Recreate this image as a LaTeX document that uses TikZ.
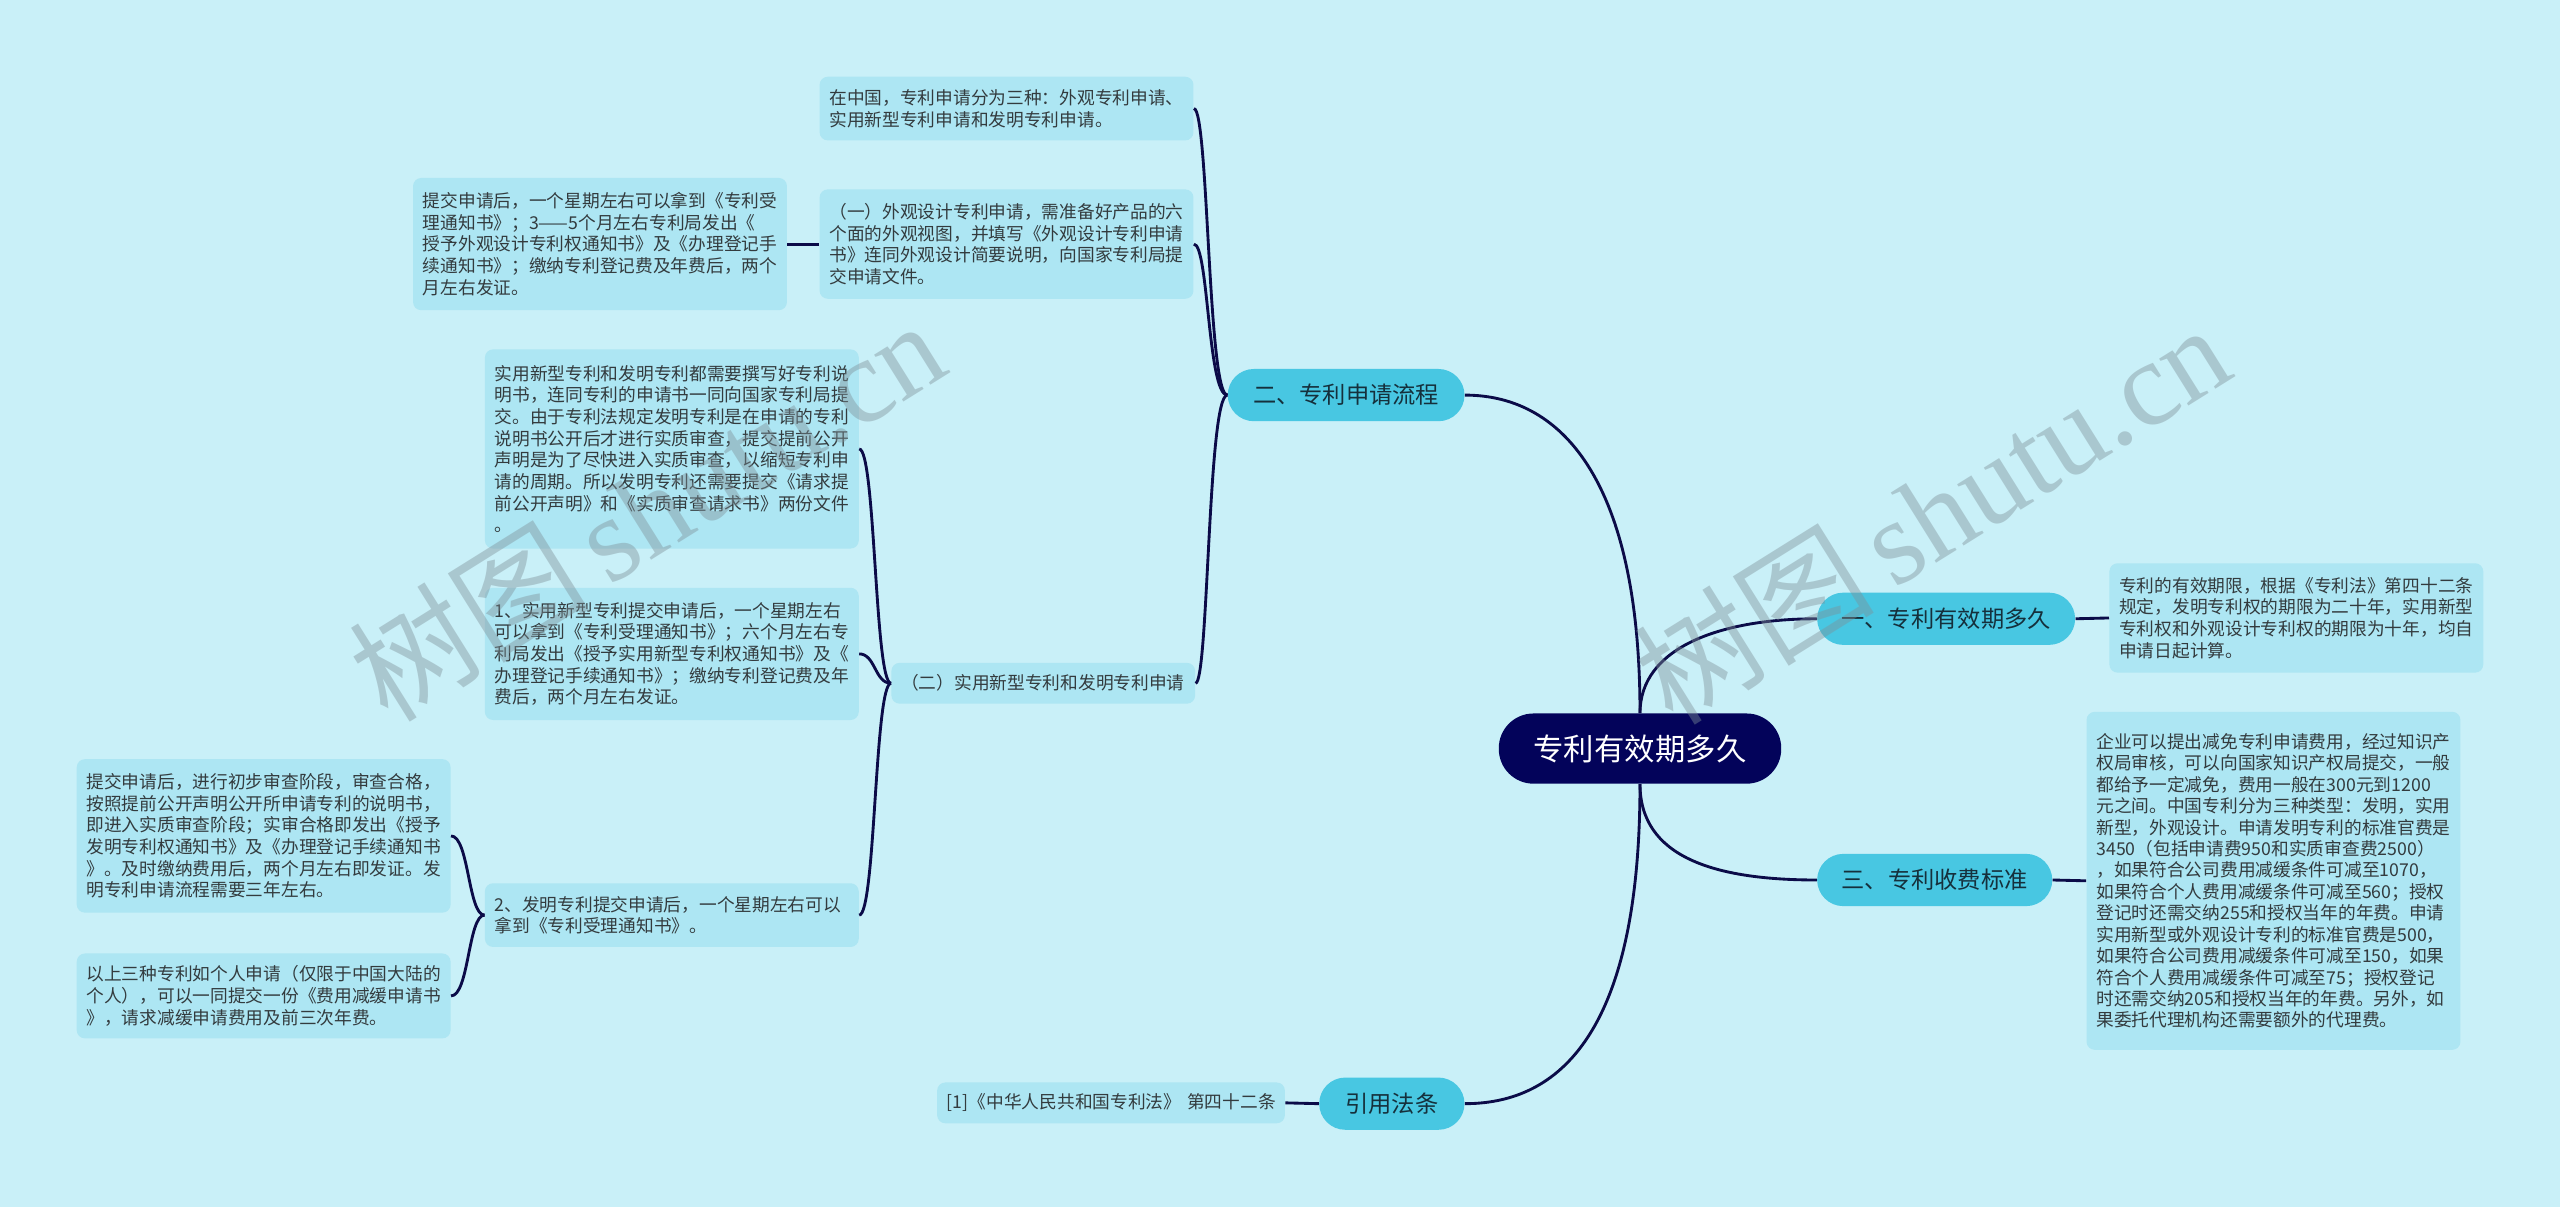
\documentclass[tikz,border=0pt]{standalone}
\usepackage{fontspec}
\setmainfont{Noto Sans CJK SC}
\newfontfamily\wmlat{Liberation Serif}
\definecolor{bgc}{HTML}{C9F0F8}
\definecolor{leafc}{HTML}{ADE6F3}
\definecolor{subc}{HTML}{48C7E2}
\definecolor{navyc}{HTML}{03035A}
\definecolor{linec}{HTML}{0B0B48}
\definecolor{txtc}{HTML}{333B3E}
\definecolor{subtxt}{HTML}{15303C}
\definecolor{wmc}{HTML}{7E9098}
\begin{document}
\begin{tikzpicture}[x=0.8pt,y=-0.8pt,
  leaf/.style={fill=leafc, rounded corners=4pt, inner xsep=4.8pt, inner ysep=0pt, text width=173.6pt, align=left, font=\fontsize{8.68}{10.6}\selectfont, text=txtc},
  sub/.style={fill=subc, rounded corners=12.8pt, minimum height=25.6pt, inner sep=0pt, font=\fontsize{11.4}{13}\selectfont, text=subtxt},
  edge/.style={draw=linec, line width=1.4pt},
  wm/.style={text=wmc, text opacity=0.42, inner sep=0pt, font=\fontsize{59}{62}\selectfont}
]
\fill[bgc] (0,0) rectangle (1568,739);
\useasboundingbox (0,0) rectangle (1568,739);

% central
\node[fill=navyc, rounded corners=17pt, minimum width=173*0.8pt, minimum height=43*0.8pt, inner sep=0pt, text=white, font=\fontsize{14.9}{16}\selectfont] (c) at (1004.5,458.5) {专利有效期多久};

% sub topics
\node[sub, minimum width=145*0.8pt] (s2) at (824.5,242) {二、专利申请流程};
\node[sub, minimum width=158*0.8pt] (s1) at (1192,379) {一、专利有效期多久};
\node[sub, minimum width=144*0.8pt] (s3) at (1185,539) {三、专利收费标准};
\node[sub, minimum width=89*0.8pt] (s4) at (852.5,676) {引用法条};

% leaves
\node[leaf, minimum height=39*0.8pt] (a1) at (616.5,66.5) {在中国，专利申请分为三种：外观专利申请、\\实用新型专利申请和发明专利申请。};
\node[leaf, minimum height=67*0.8pt] (a2) at (616.5,149.5) {（一）外观设计专利申请，需准备好产品的六\\个面的外观视图，并填写《外观设计专利申请\\书》连同外观设计简要说明，向国家专利局提\\交申请文件。};
\node[leaf, minimum height=81*0.8pt] (a2a) at (367.5,149.5) {提交申请后，一个星期左右可以拿到《专利受\\理通知书》；3——5个月左右专利局发出《\\授予外观设计专利权通知书》及《办理登记手\\续通知书》；缴纳专利登记费及年费后，两个\\月左右发证。};
\node[leaf, text width=139.2pt, minimum height=25*0.8pt] (b) at (639,418.5) {（二）实用新型专利和发明专利申请};
\node[leaf, minimum height=122*0.8pt] (b1) at (411.5,275) {实用新型专利和发明专利都需要撰写好专利说\\明书，连同专利的申请书一同向国家专利局提\\交。由于专利法规定发明专利是在申请的专利\\说明书公开后才进行实质审查，提交提前公开\\声明是为了尽快进入实质审查，以缩短专利申\\请的周期。所以发明专利还需要提交《请求提\\前公开声明》和《实质审查请求书》两份文件\\。};
\node[leaf, minimum height=81*0.8pt] (b2) at (411.5,400.5) {1、实用新型专利提交申请后，一个星期左右\\可以拿到《专利受理通知书》；六个月左右专\\利局发出《授予实用新型专利权通知书》及《\\办理登记手续通知书》；缴纳专利登记费及年\\费后，两个月左右发证。};
\node[leaf, minimum height=39*0.8pt] (b3) at (411.5,560.5) {2、发明专利提交申请后，一个星期左右可以\\拿到《专利受理通知书》。};
\node[leaf, minimum height=94*0.8pt] (b3a) at (161.5,512) {提交申请后，进行初步审查阶段，审查合格，\\按照提前公开声明公开所申请专利的说明书，\\即进入实质审查阶段；实审合格即发出《授予\\发明专利权通知书》及《办理登记手续通知书\\》。及时缴纳费用后，两个月左右即发证。发\\明专利申请流程需要三年左右。};
\node[leaf, minimum height=52*0.8pt] (b3b) at (161.5,610) {以上三种专利如个人申请（仅限于中国大陆的\\个人），可以一同提交一份《费用减缓申请书\\》，请求减缓申请费用及前三次年费。};
\node[leaf, minimum height=67*0.8pt] (c1) at (1406.5,378.5) {专利的有效期限，根据《专利法》第四十二条\\规定，发明专利权的期限为二十年，实用新型\\专利权和外观设计专利权的期限为十年，均自\\申请日起计算。};
\node[leaf, minimum height=207*0.8pt, font=\fontsize{8.68}{10.5}\selectfont] (d1) at (1392.5,539.5) {企业可以提出减免专利申请费用，经过知识产\\权局审核，可以向国家知识产权局提交，一般\\都给予一定减免，费用一般在300元到1200\\元之间。中国专利分为三种类型：发明，实用\\新型，外观设计。申请发明专利的标准官费是\\3450（包括申请费950和实质审查费2500）\\，如果符合公司费用减缓条件可减至1070，\\如果符合个人费用减缓条件可减至560；授权\\登记时还需交纳255和授权当年的年费。申请\\实用新型或外观设计专利的标准官费是500，\\如果符合公司费用减缓条件可减至150，如果\\符合个人费用减缓条件可减至75；授权登记\\时还需交纳205和授权当年的年费。另外，如\\果委托代理机构还需要额外的代理费。};
\node[leaf, text width=160.8pt, minimum height=25*0.8pt] (e1) at (680.5,675.5) {[1]《中华人民共和国专利法》~第四十二条};

% central edges
\draw[edge] (c.north) .. controls (1004.5,300) and (960,242) .. (s2.east);
\draw[edge] (c.north) .. controls (1004.5,397) and (1053,379) .. (s1.west);
\draw[edge] (c.south) .. controls (1004.5,525) and (1050,539) .. (s3.west);
\draw[edge] (c.south) .. controls (1004.5,640) and (950,676) .. (s4.east);

% branch edges
\draw[edge] (s2.west) .. controls +(-12,0) and +(9,0) .. (a1.east);
\draw[edge] (s2.west) .. controls +(-12,0) and +(9,0) .. (a2.east);
\draw[edge] (s2.west) .. controls +(-12,0) and +(8,0) .. (b.east);
\draw[edge] (a2.west) -- (a2a.east);
\draw[edge] (b.west) .. controls +(-10,0) and +(10,0) .. (b1.east);
\draw[edge] (b.west) .. controls +(-10,0) and +(10,0) .. (b2.east);
\draw[edge] (b.west) .. controls +(-10,0) and +(10,0) .. (b3.east);
\draw[edge] (b3.west) .. controls +(-10,0) and +(11,0) .. (b3a.east);
\draw[edge] (b3.west) .. controls +(-10,0) and +(11,0) .. (b3b.east);
\draw[edge] (s1.east) -- (c1.west);
\draw[edge] (s3.east) -- (d1.west);
\draw[edge] (s4.west) -- (e1.east);

% watermarks
\node[wm, rotate=32] (wm1) at (396,312) {树图\,{\wmlat shutu.cn}};
\node[wm, rotate=32] (wm2) at (1183,314) {树图\,{\wmlat shutu.cn}};
\end{tikzpicture}
\end{document}
